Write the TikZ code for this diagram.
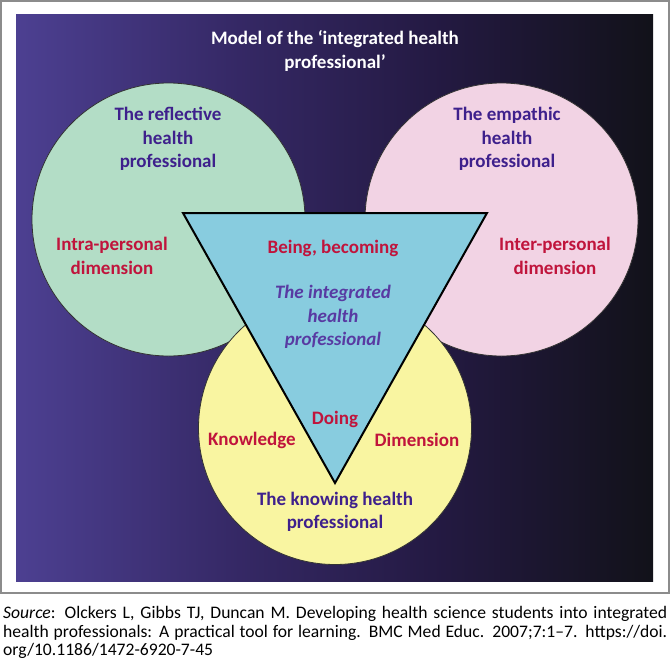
\documentclass[tikz,border=0pt]{standalone}
\usepackage{fontspec}
\setmainfont{Carlito}
\definecolor{cgreen}{RGB}{179,221,198}
\definecolor{cpink}{RGB}{242,211,228}
\definecolor{cyellow}{RGB}{249,245,161}
\definecolor{ccyan}{RGB}{136,204,223}
\definecolor{cred}{RGB}{192,20,60}
\definecolor{cpurple}{RGB}{62,32,140}
\definecolor{citalic}{RGB}{88,58,162}
\definecolor{cframe}{RGB}{140,140,140}
\pgfdeclarehorizontalshading{bgshade}{100bp}{rgb(0bp)=(0.30,0.25,0.57); rgb(25bp)=(0.30,0.25,0.57); rgb(42bp)=(0.21,0.16,0.40); rgb(58bp)=(0.14,0.10,0.26); rgb(75bp)=(0.07,0.07,0.10); rgb(100bp)=(0.07,0.07,0.10)}
\begin{document}
\begin{tikzpicture}[x=1pt,y=-1pt,
  disc/.style={circle, draw=black!80, line width=0.8pt, inner sep=0pt, minimum size=273pt},
  lbl/.style={align=center, inner sep=0pt, font=\fontsize{19}{23.5}\selectfont\bfseries},
  who/.style={lbl, text=cpurple},
  dim/.style={lbl, text=cred},
  captext/.style={anchor=base west, inner sep=0pt, font=\fontsize{17.6}{19}\selectfont}]
\useasboundingbox (0,0) rectangle (670,662);
\fill[white] (0,0) rectangle (670,662);
\draw[cframe, line width=1.5pt] (1,1) rectangle (669,593);
\shade[shading=bgshade] (16,14) rectangle (653,581);
% circles
\node[disc, fill=cgreen] (refl) at (168.5,219.5) {};
\node[disc, fill=cpink] (emp) at (501.5,219.5) {};
\node[disc, fill=cyellow] (know) at (335,428) {};
% triangle
\coordinate (tl) at (183,213);
\coordinate (tr) at (487,213);
\coordinate (tb) at (335,483);
\draw[fill=ccyan, line width=2pt, line join=miter] (tl) -- (tr) -- (tb) -- cycle;
% title
\node[lbl, text=white] (title) at (335,51) {Model of the ‘integrated health\\professional’};
% labels
\node[who] (reflt) at (168,139) {The reflective\\health\\professional};
\node[dim] (refld) at (112,256) {Intra-personal\\dimension};
\node[who] (empt) at (507,139) {The empathic\\health\\professional};
\node[dim] (empd) at (555,256) {Inter-personal\\dimension};
\node[dim] (being) at (333,248) {Being, becoming};
\node[lbl, text=citalic, font=\fontsize{19}{23.5}\selectfont\bfseries\itshape] (integ) at (333,317) {The integrated\\health\\professional};
\node[dim] (doing) at (335,419) {Doing};
\node[dim] (kn) at (252,440) {Knowledge};
\node[dim] (dm) at (417,440) {Dimension};
\node[who] (knt) at (335,512) {The knowing health\\professional};
% caption
\node[captext] (c1) at (3,618) {\makebox[664pt][s]{\textit{Source}: Olckers L, Gibbs TJ, Duncan M. Developing health science students into integrated}};
\node[captext] (c2) at (3,637) {\makebox[664pt][s]{health professionals: A practical tool for learning. BMC Med Educ. 2007;7:1–7. https://doi.}};
\node[captext] (c3) at (3,655) {org/10.1186/1472-6920-7-45};
\end{tikzpicture}
\end{document}
